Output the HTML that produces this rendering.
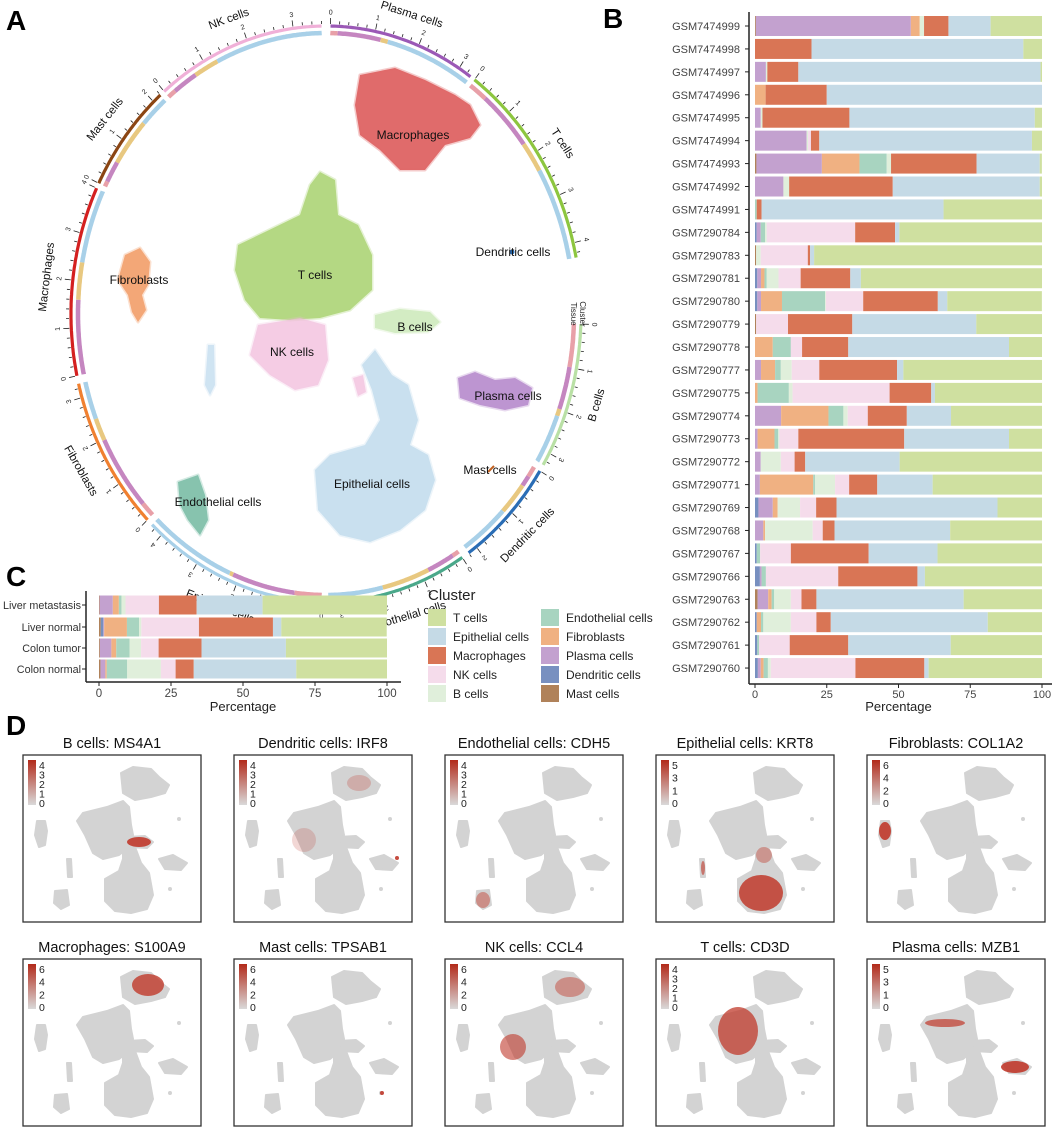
<!DOCTYPE html>
<html><head><meta charset="utf-8">
<style>
html,body{margin:0;padding:0;background:#fff;}
body{width:1059px;height:1129px;overflow:hidden;font-family:"Liberation Sans",Arial,sans-serif;}
svg text{font-family:"Liberation Sans",Arial,sans-serif;}
</style></head>
<body>
<svg id="fig" width="1059" height="1129" viewBox="0 0 1059 1129" xmlns="http://www.w3.org/2000/svg">
<g id="panelA"></g>
<g id="panelB"></g>
<g id="panelC"></g>
<g id="panelD"></g>
<text x="6" y="30" font-size="28" font-weight="bold">A</text>
<text x="603" y="28" font-size="28" font-weight="bold">B</text>
<text x="6" y="586" font-size="28" font-weight="bold">C</text>
<text x="6" y="735" font-size="28" font-weight="bold">D</text>
</svg>
<script>
// ---------- shared data ----------
const clusterOrder = ["Mast cells","Dendritic cells","Plasma cells","Fibroblasts","Endothelial cells","B cells","NK cells","Macrophages","Epithelial cells","T cells"];
const clusterFill = ["#b0825a","#7890c0","#c3a1cf","#f0b182","#a8d4c0","#e0efdb","#f5dceb","#d97555","#c5dae6","#cfe0a0"];

// Panel B data
const sampleNames = ["GSM7474999","GSM7474998","GSM7474997","GSM7474996","GSM7474995","GSM7474994","GSM7474993","GSM7474992","GSM7474991","GSM7290784","GSM7290783","GSM7290781","GSM7290780","GSM7290779","GSM7290778","GSM7290777","GSM7290775","GSM7290774","GSM7290773","GSM7290772","GSM7290771","GSM7290769","GSM7290768","GSM7290767","GSM7290766","GSM7290763","GSM7290762","GSM7290761","GSM7290760"];
// order: mast, dc, plasma, fib, endo, B, NK, mac, epi, T
const sampleValues = [
[0.3,0,54,3.1,0,1.5,0,8.5,14.7,17.9],
[0,0,0,0,0,0,0,19.7,73.8,6.5],
[0,0,3.8,0,0,0.5,0,10.8,84.4,0.5],
[0,0,0,3.7,0,0,0,21.3,75,0],
[0,0,2,0,0,0.6,0,30.3,64.6,2.5],
[0,0,18,0,0,0.5,1,2.9,74.1,3.5],
[0.5,0,22.8,13.1,9.5,1.5,0,29.8,22,0.7],
[0,0,9.9,0,0,2,0,36.1,51.2,0.8],
[0,0,0,0,0.6,0,0,1.7,63.4,34.3],
[0,0.6,1.4,0,1.5,0.6,30.8,13.9,1.5,49.7],
[0.4,0,0,0,0,1.6,16.4,0.8,1.4,79.4],
[0,0.8,1.3,1.2,0.8,4.1,7.7,17.3,3.7,63.1],
[0,0.8,1.3,7.3,15,0.3,13,26,3.3,32.9],
[0.4,0,0,0,0,0,11.1,22.4,43.2,22.9],
[0,0,0,6.2,6.3,0,3.9,16.1,56,11.5],
[0,0,2.1,4.9,2,3.8,9.6,27.1,2.2,48.3],
[0,0,0,0.9,10.9,1.3,33.8,14.5,1.3,37.3],
[0,0,9.1,16.5,5.2,1.5,7,13.6,15.4,31.7],
[0,0,0.9,5.9,1.3,0.4,6.6,36.9,36.5,11.5],
[0,0,2,0,0,7,4.8,3.7,32.9,49.6],
[0,0,1.7,18.6,0.6,7,4.9,9.8,19.3,38.1],
[0,1.2,5,1.7,0,7.8,5.6,7.1,56.1,15.5],
[0,0,2.9,0.6,0,16.6,3.5,4.1,40.3,32],
[0,0.6,0,0,1.2,0,10.7,27.1,24,36.4],
[0,1.7,0.6,0,1.5,0,25.2,27.6,2.6,40.8],
[0.9,0,3.7,1.2,0.9,5.8,3.7,5.2,51.3,27.3],
[0,0.6,0,1.5,0.8,9.6,8.9,5,54.7,18.9],
[0,0.8,0,0,0.6,0,10.7,20.4,35.7,31.8],
[0,1,1,1,1.5,1,29.5,24,1.5,39.5]
];
const pctTicks = [0,25,50,75,100];

// Panel C data
const tissueNames = ["Liver metastasis","Liver normal","Colon tumor","Colon normal"];
const tissueValues = [
[0.2,0,4.6,2.1,0.9,1.4,11.6,13.1,22.9,43.2],
[0.6,0.9,0.3,7.9,4.2,0.8,20,25.7,2.9,36.6],
[0.3,0,4,1.7,4.6,4,6.1,14.9,29.3,35.1],
[0.5,0,1.7,0.5,7.1,11.7,5.1,6.3,35.6,31.5]
];

// Panel A data
const segNames = ["Plasma cells","T cells","B cells","Dendritic cells","Endothelial cells","Epithelial cells","Fibroblasts","Macrophages","Mast cells","NK cells"];
const segStart = [1,35.6,92,123,147.7,181,224.4,257.6,297,320.6];
const segEnd = [34.5,78.7,121.6,146,179.5,223,256,295.9,319.5,359];
const segColor = ["#9b59b6","#8dc63f","#b9e0a5","#2a6db5","#4aa88a","#a8d0e8","#f08030","#d42020","#8b4513","#f0b0d8"];
const segUnits = [3.3,4.3,3.3,2.2,3.3,4.3,3.3,4.0,2.2,3.6];
const tissueSplit = [
[0.05,0.3,0.05,0.6],[0.1,0.3,0.15,0.45],[0.3,0.3,0.05,0.35],[0.1,0.1,0.3,0.5],[0.05,0.2,0.35,0.4],
[0.15,0.35,0.02,0.48],[0.1,0.5,0.15,0.25],[0,0.4,0.2,0.4],[0.05,0.2,0.45,0.3],[0.05,0.15,0.15,0.65]
];
const tissueRingColor = ["#e8a0a8","#c586c0","#e8c880","#a8d0e8"];

// ---------- helpers ----------
const NS="http://www.w3.org/2000/svg";
function mk(parent,tag,attrs){const e=document.createElementNS(NS,tag);for(const k in attrs)e.setAttribute(k,attrs[k]);parent.appendChild(e);return e;}

// ---------- Panel B ----------
(function(){
const g=document.getElementById('panelB');
const x0=755,x1=1042,yTop=26,step=22.93,bh=20;
const xs=v=>x0+(x1-x0)*v/100;
const ys=i=>yTop+i*step;
const ax=mk(g,'line',{x1:749,y1:12,x2:749,y2:684,stroke:'#222','stroke-width':1.5});

const bx=mk(g,'line',{x1:749,y1:684,x2:1052,y2:684,stroke:'#222','stroke-width':1.5});

sampleNames.forEach((n,i)=>{
  const y=ys(i);
  const t=mk(g,'text',{x:740,y:y+4,'font-size':11,'text-anchor':'end',fill:'#444'});t.textContent=n;
  
  mk(g,'line',{x1:745,y1:y,x2:749,y2:y,stroke:'#222'});
  let acc=0;
  sampleValues[i].forEach((v,k)=>{
    if(v<=0)return;
    const r=mk(g,'rect',{x:xs(acc),y:y-bh/2,width:Math.max(0,xs(acc+v)-xs(acc)),height:bh,fill:clusterFill[k]});
    
    acc+=v;
  });
  if(acc<100){mk(g,'rect',{x:xs(acc),y:y-bh/2,width:xs(100)-xs(acc),height:bh,fill:clusterFill[9]});}
});
pctTicks.forEach(v=>{
  mk(g,'line',{x1:xs(v),y1:684,x2:xs(v),y2:688,stroke:'#222'});
  const t=mk(g,'text',{x:xs(v),y:698,'font-size':11,'text-anchor':'middle',fill:'#444'});t.textContent=v;
  
});
const tt=mk(g,'text',{x:xs(50),y:711,'font-size':13,'text-anchor':'middle',fill:'#222'});tt.textContent='Percentage';

})();

// ---------- Panel C ----------
(function(){
const g=document.getElementById('panelC');
const x0=99,x1=387,bh=19;
const rowsY=[605,627,648,669];
const xs=v=>x0+(x1-x0)*v/100;
const ax=mk(g,'line',{x1:86,y1:591,x2:86,y2:682,stroke:'#222','stroke-width':1.5});

const bx=mk(g,'line',{x1:86,y1:682,x2:401,y2:682,stroke:'#222','stroke-width':1.5});

tissueNames.forEach((n,i)=>{
  const y=rowsY[i];
  const t=mk(g,'text',{x:81,y:y+4,'font-size':10.8,'text-anchor':'end',fill:'#333'});t.textContent=n;
  
  mk(g,'line',{x1:82,y1:y,x2:86,y2:y,stroke:'#222'});
  let acc=0;
  tissueValues[i].forEach((v,k)=>{
    if(v<=0)return;
    const r=mk(g,'rect',{x:xs(acc),y:y-bh/2,width:xs(acc+v)-xs(acc),height:bh,fill:clusterFill[k]});
    
    acc+=v;
  });
});
pctTicks.forEach(v=>{
  mk(g,'line',{x1:xs(v),y1:682,x2:xs(v),y2:686,stroke:'#222'});
  const t=mk(g,'text',{x:xs(v),y:697,'font-size':11.5,'text-anchor':'middle',fill:'#444'});t.textContent=v;
  
});
const tt=mk(g,'text',{x:xs(50),y:711,'font-size':13,'text-anchor':'middle',fill:'#222'});tt.textContent='Percentage';

const lg=mk(g,'g',{});

const lt=mk(lg,'text',{x:428,y:600,'font-size':15,fill:'#222'});lt.textContent='Cluster';
const legOrder=[9,8,7,6,5,4,3,2,1,0];
legOrder.forEach((k,j)=>{
  const col=j<5?0:1,row=j%5;
  const sx=col?541:428,sy=609+row*19;
  mk(lg,'rect',{x:sx,y:sy,width:18,height:17,fill:clusterFill[k]});
  const t=mk(lg,'text',{x:sx+25,y:sy+13,'font-size':12,fill:'#222'});t.textContent=clusterOrder[k];
  
});
})();

// ---------- Panel A ----------
(function(){
const g=document.getElementById('panelA');
const cx=326,cy=314,rx=255,ry=288;
const P=(deg,d)=>{const a=deg*Math.PI/180;return [cx+(rx+d)*Math.sin(a),cy-(ry+d)*Math.cos(a)];};
function arc(a0,a1,d){let s='';for(let a=a0;a<=a1+0.001;a+=Math.max(0.25,(a1-a0)/80)){const p=P(Math.min(a,a1),d);s+=(s?'L':'M')+p[0].toFixed(1)+','+p[1].toFixed(1);}const p=P(a1,d);s+='L'+p[0].toFixed(1)+','+p[1].toFixed(1);return s;}
const blobs=[
 {n:'macrophages-cluster',c:'#d63a3a',d:'M360,75 L395,68 L425,80 L455,95 L470,105 L480,125 L470,138 L445,145 L425,170 L400,170 L380,150 L360,135 L355,105 Z'},
 {n:'t-cells-cluster',c:'#9ccc5a',d:'M320,172 L335,180 L338,215 L358,225 L372,255 L372,290 L350,310 L320,318 L290,320 L260,318 L245,300 L235,270 L238,245 L265,232 L300,215 L310,185 Z'},
 {n:'nk-cells-cluster',c:'#f2bcdc',d:'M258,325 L300,318 L325,325 L328,360 L318,385 L295,390 L270,375 L250,355 Z'},
 {n:'b-cells-cluster',c:'#c5e6b0',d:'M375,315 L400,309 L430,312 L440,322 L428,332 L395,333 L375,328 Z'},
 {n:'epithelial-cells-cluster',c:'#b8d6ea',d:'M375,350 L392,375 L408,385 L418,420 L410,445 L428,455 L435,480 L425,510 L400,530 L370,542 L340,535 L318,510 L315,470 L330,455 L365,445 L380,420 L372,390 L362,365 Z'},
 {n:'plasma-cells-cluster',c:'#a872c2',d:'M458,378 L475,372 L495,380 L515,378 L532,388 L528,405 L505,410 L480,405 L460,398 Z'},
 {n:'fibroblasts-cluster',c:'#f08a4a',d:'M125,255 L140,248 L150,262 L148,285 L142,295 L146,310 L138,322 L132,312 L128,295 L118,280 Z'},
 {n:'endothelial-cells-cluster',c:'#5fb094',d:'M178,482 L198,475 L205,495 L208,520 L200,535 L188,520 L180,505 Z'},
 {n:'small-epithelial-cluster',c:'#c0dbee',d:'M208,345 L214,345 L215,385 L210,395 L205,385 Z'},
 {n:'small-nk-cluster',c:'#f2bcdc',d:'M353,378 L363,375 L366,392 L358,396 Z'}
];
blobs.forEach(b=>{const p=mk(g,'path',{d:b.d,fill:b.c,opacity:0.75,stroke:b.c,'stroke-width':3,'stroke-opacity':0.35,'stroke-linejoin':'round'});
 });
mk(g,'circle',{cx:512,cy:252,r:2.5,fill:'#2a6db5'});
mk(g,'path',{d:'M488,472 L494,466',stroke:'#c06020','stroke-width':2});
const labs=[['Macrophages',413,139],['T cells',315,279],['B cells',415,331],['NK cells',292,356],['Dendritic cells',513,256],['Fibroblasts',139,284],['Plasma cells',508,400],['Mast cells',490,474],['Epithelial cells',372,488],['Endothelial cells',218,506]];
labs.forEach(l=>{const t=mk(g,'text',{x:l[1],y:l[2],'font-size':12,'text-anchor':'middle',fill:'#111'});t.textContent=l[0];
 });
segNames.forEach((n,i)=>{
  const a0=segStart[i],a1=segEnd[i],span=a1-a0;
  const cl=mk(g,'path',{d:arc(a0,a1,0),fill:'none',stroke:segColor[i],'stroke-width':3.2});
  
  let acc=a0;
  tissueSplit[i].forEach((f,k)=>{if(f<=0)return;const e=acc+span*f;
    mk(g,'path',{d:arc(acc,e,-7),fill:'none',stroke:tissueRingColor[k],'stroke-width':4.5});acc=e;});
  const U=segUnits[i];
  for(let u=0;u<=U+1e-6;u+=0.2){
    const a=a0+span*u/U;const p1=P(a,2),p2=P(a,Math.abs(u-Math.round(u))<0.01?8:5);
    mk(g,'line',{x1:p1[0],y1:p1[1],x2:p2[0],y2:p2[1],stroke:'#222','stroke-width':0.8});
  }
  for(let u=0;u<=U;u++){const a=a0+span*u/U;const p=P(a,14);
    const t=mk(g,'text',{x:p[0],y:p[1]+2.5,'font-size':7,'text-anchor':'middle',fill:'#222',transform:`rotate(${a} ${p[0]} ${p[1]})`});t.textContent=u;}
  const am=(a0+a1)/2;const p=P(am,27);let rot=am;if(am>90&&am<270)rot=am+180;
  const t=mk(g,'text',{x:p[0],y:p[1]+4,'font-size':11.5,'text-anchor':'middle',fill:'#111',transform:`rotate(${rot} ${p[0]} ${p[1]})`});t.textContent=n;
  
});
const p=P(90,-7);
const ct=mk(g,'text',{x:p[0]+6,y:p[1],'font-size':8,'text-anchor':'middle',fill:'#222',transform:`rotate(90 ${p[0]+6} ${p[1]})`});ct.textContent='Cluster';
const tt=mk(g,'text',{x:p[0]-3,y:p[1],'font-size':8,'text-anchor':'middle',fill:'#222',transform:`rotate(90 ${p[0]-3} ${p[1]})`});tt.textContent='Tissue';
})();

// ---------- Panel D ----------
const featTitles=["B cells: MS4A1","Dendritic cells: IRF8","Endothelial cells: CDH5","Epithelial cells: KRT8","Fibroblasts: COL1A2","Macrophages: S100A9","Mast cells: TPSAB1","NK cells: CCL4","T cells: CD3D","Plasma cells: MZB1"];
const featScale=[[4,3,2,1,0],[4,3,2,1,0],[4,3,2,1,0],[5,3,1,0],[6,4,2,0],[6,4,2,0],[6,4,2,0],[6,4,2,0],[4,3,2,1,0],[5,3,1,0]];
(function(){
const g=document.getElementById('panelD');
const colX=[23,234,445,656,867],rowY=[755,959],W=178,H=167;
const shapes=['M98,18 L110,12 L128,14 L136,22 L146,30 L142,38 L128,42 L112,45 L100,38 Z',
'M100,46 L106,52 L108,70 L110,80 L106,92 L96,100 L80,104 L70,98 L62,80 L54,66 L60,58 L84,52 Z',
'M104,82 L122,81 L130,87 L124,93 L106,92 Z',
'M100,92 L112,92 L118,108 L126,118 L130,140 L124,154 L108,158 L92,156 L82,146 L82,124 L96,116 L100,104 Z',
'M136,104 L150,100 L164,108 L158,115 L142,114 Z',
'M14,66 L22,66 L24,76 L22,90 L16,92 L12,80 Z',
'M44,104 L48,104 L49,122 L45,122 Z',
'M32,136 L44,135 L46,150 L38,154 L31,148 Z'];
const hot=[
 [[116,87,12,5,0.9]],
 [[125,28,12,8,0.25],[70,85,12,12,0.2],[163,103,2,2,0.9]],
 [[38,145,7,8,0.45]],
 [[105,138,22,18,0.85],[108,100,8,8,0.4],[47,113,2,7,0.6]],
 [[18,76,6,9,0.9]],
 [[125,26,16,11,0.8]],
 [[148,134,2,2,0.9]],
 [[68,88,13,13,0.6],[125,28,15,10,0.45]],
 [[82,72,20,24,0.75]],
 [[148,108,14,6,0.9],[78,64,20,4,0.7]]
];
featTitles.forEach((ti,i)=>{
  const x=colX[i%5],y=rowY[Math.floor(i/5)];
  const pg=mk(g,'g',{transform:`translate(${x},${y})`});
  
  const t=mk(pg,'text',{x:W/2,y:-7,'font-size':14.5,'text-anchor':'middle',fill:'#111'});t.textContent=ti;
  
  mk(pg,'rect',{x:0,y:0,width:W,height:H,fill:'#fff',stroke:'#333','stroke-width':1.3});
  shapes.forEach(s=>mk(pg,'path',{d:s,fill:'#d3d3d3',stroke:'#d3d3d3','stroke-width':2,'stroke-linejoin':'round'}));
  mk(pg,'circle',{cx:156,cy:64,r:2,fill:'#d3d3d3'});mk(pg,'circle',{cx:147,cy:134,r:2,fill:'#d3d3d3'});
  hot[i].forEach(h=>mk(pg,'ellipse',{cx:h[0],cy:h[1],rx:h[2],ry:h[3],fill:'#c0392b',opacity:h[4]}));
  const gid='grad'+i;const defs=mk(pg,'defs',{});const lgd=mk(defs,'linearGradient',{id:gid,x1:0,y1:0,x2:0,y2:1});
  mk(lgd,'stop',{offset:'0',"stop-color":'#b22a1a'});mk(lgd,'stop',{offset:'1',"stop-color":'#d9d9d9'});
  mk(pg,'rect',{x:5,y:5,width:8,height:45,fill:`url(#${gid})`});
  const sc=featScale[i];
  sc.forEach((v,k)=>{const ty=11+k*(38/(sc.length-1));const tx=mk(pg,'text',{x:16,y:ty+3,'font-size':10.5,fill:'#222'});tx.textContent=v;});
});
})();
</script>
</body></html>
